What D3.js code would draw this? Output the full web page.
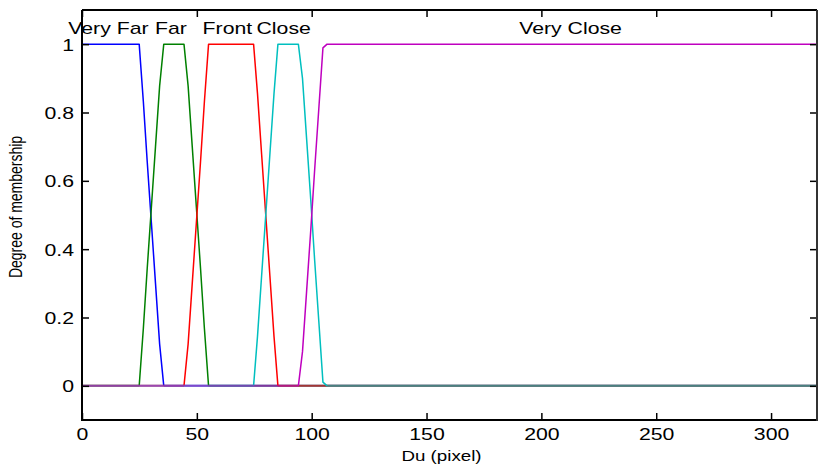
<!DOCTYPE html>
<html>
<head>
<meta charset="utf-8">
<script src="https://cdn.jsdelivr.net/npm/d3@7"></script>
<style>
  html, body { margin: 0; padding: 0; background: #fff; }
  svg { display: block; }
  text { font-family: "Liberation Sans", Arial, sans-serif; fill: #000; }
</style>
</head>
<body>
<svg id="chart" width="823" height="469"></svg>
<script>
// Membership functions of the distance variable Du (pixel)
const veryFarMf = [[0,1],[24.9,1],[26.7,0.833],[28.4,0.656],[30.2,0.478],[32,0.3],[33.8,0.122],[35.6,0],[320,0]];
const farMf = [[0,0],[24.9,0],[26.7,0.167],[28.4,0.344],[30.2,0.522],[32,0.7],[33.8,0.878],[35.6,1],[44.4,1],[46.2,0.878],[48,0.7],[49.8,0.522],[51.6,0.344],[53.3,0.167],[55.1,0],[320,0]];
const frontMf = [[0,0],[44.4,0],[46.2,0.122],[48,0.3],[49.8,0.478],[51.6,0.656],[53.3,0.833],[55.1,1],[74.7,1],[76.4,0.856],[78.2,0.678],[80,0.5],[81.8,0.322],[83.6,0.144],[85.3,0],[320,0]];
const closeMf = [[0,0],[74.7,0],[76.4,0.144],[78.2,0.322],[80,0.5],[81.8,0.678],[83.6,0.856],[85.3,1],[94.2,1],[96,0.9],[97.8,0.722],[99.6,0.544],[101.3,0.367],[103.1,0.189],[104.9,0.011],[106.7,0],[320,0]];
const veryCloseMf = [[0,0],[94.2,0],[96,0.1],[97.8,0.278],[99.6,0.456],[101.3,0.633],[103.1,0.811],[104.9,0.989],[106.7,1],[320,1]];

const seriesNames = ["Very Far", "Far", "Front", "Close", "Very Close"];
const seriesData = [veryFarMf, farMf, frontMf, closeMf, veryCloseMf];
const seriesColors = ["#0000ff", "#008000", "#ff0000", "#00bfbf", "#bf00bf"];
// Where each name is written along the x axis
const labelX = [11.5, 38.7, 63.3, 87.8, 212.7];
const labelY = 1.03;

const xTicks = [0, 50, 100, 150, 200, 250, 300];
const yTicks = [0, 0.2, 0.4, 0.6, 0.8, 1];
const yTickLabels = ["0", "0.2", "0.4", "0.6", "0.8", "1"];

const xTitle = "Du (pixel)";
const yTitle = "Degree of membership";

const plotLeft = 82, plotRight = 817, plotTop = 10, plotBottom = 420;
const stretch = 1.25;

const svg = d3.select("#chart");
const x = d3.scaleLinear().domain([0, 320]).range([plotLeft, plotRight]);
const y = d3.scaleLinear().domain([-0.1, 1.1]).range([plotBottom, plotTop]);

const line = d3.line().x(d => x(d[0])).y(d => y(d[1]));

// Split a curve into runs lying on zero and runs that are not
function runs(pts) {
  const out = [];
  let cur = null;
  for (let i = 0; i < pts.length - 1; i++) {
    const rest = pts[i][1] === 0 && pts[i + 1][1] === 0;
    if (!cur || cur.rest !== rest) {
      cur = { rest, pts: [pts[i]] };
      out.push(cur);
    }
    cur.pts.push(pts[i + 1]);
  }
  return out;
}

const curves = svg.append("g");
seriesData.forEach((pts, i) => {
  runs(pts).forEach(r => {
    curves.append("path")
      .attr("d", line(r.pts))
      .attr("fill", "none")
      .attr("stroke", seriesColors[i])
      .attr("stroke-width", r.rest ? 2 : 1.5)
      .attr("stroke-opacity", r.rest ? 0.55 : 1)
      .attr("stroke-linejoin", "round");
  });
});

// Axes: ticks point inward on all four sides
function styleAxis(g) {
  g.select(".domain").remove();
  g.selectAll(".tick line").attr("stroke", "#000").attr("stroke-width", 1.5);
}

const gx = svg.append("g").attr("transform", `translate(0,${plotBottom})`)
  .call(d3.axisBottom(x).tickValues(xTicks).tickSize(-7).tickSizeOuter(0).tickFormat(d3.format("d")));
styleAxis(gx);
gx.selectAll(".tick text")
  .attr("y", null).attr("dy", null)
  .attr("transform", `translate(0,20) scale(${stretch},1)`)
  .attr("font-size", 17)
  .attr("text-anchor", "middle");

svg.append("g").attr("transform", `translate(0,${plotTop})`)
  .call(d3.axisTop(x).tickValues(xTicks).tickSize(-7).tickSizeOuter(0).tickFormat(""))
  .call(styleAxis);

const gy = svg.append("g").attr("transform", `translate(${plotLeft},0)`)
  .call(d3.axisLeft(y).tickValues(yTicks).tickSize(-7).tickSizeOuter(0)
    .tickFormat((d, i) => yTickLabels[i]));
styleAxis(gy);
gy.selectAll(".tick text")
  .attr("x", null).attr("dy", null)
  .attr("transform", `translate(-8,6) scale(${stretch},1)`)
  .attr("font-size", 17)
  .attr("text-anchor", "end");

svg.append("g").attr("transform", `translate(${plotRight},0)`)
  .call(d3.axisRight(y).tickValues(yTicks).tickSize(-7).tickSizeOuter(0).tickFormat(""))
  .call(styleAxis);

// Plot frame
const frame = svg.append("g").attr("stroke-width", 2).attr("shape-rendering", "crispEdges");
frame.append("line").attr("x1", plotLeft).attr("x2", plotRight).attr("y1", plotTop).attr("y2", plotTop).attr("stroke", "#000");
frame.append("line").attr("x1", plotLeft).attr("x2", plotRight).attr("y1", plotBottom).attr("y2", plotBottom).attr("stroke", "#000");
frame.append("line").attr("x1", plotLeft).attr("x2", plotLeft).attr("y1", plotTop).attr("y2", plotBottom + 1).attr("stroke", "#000");
frame.append("line").attr("x1", plotRight).attr("x2", plotRight).attr("y1", plotTop).attr("y2", plotBottom + 1).attr("stroke", "#333");

// Names of the membership functions
svg.append("g").selectAll("text").data(seriesNames).join("text")
  .attr("transform", (d, i) => `translate(${x(labelX[i])},${y(labelY)}) scale(${stretch},1)`)
  .attr("text-anchor", "middle")
  .attr("font-size", 17)
  .text(d => d);

// Axis titles
svg.append("text")
  .attr("transform", `translate(${(plotLeft + plotRight) / 2 - 8},461) scale(${stretch},1)`)
  .attr("text-anchor", "middle")
  .attr("font-size", 15)
  .text(xTitle);

svg.append("text")
  .attr("transform", `translate(22,207) scale(${stretch},1) rotate(-90)`)
  .attr("text-anchor", "middle")
  .attr("font-size", 14)
  .text(yTitle);
</script>
</body>
</html>
